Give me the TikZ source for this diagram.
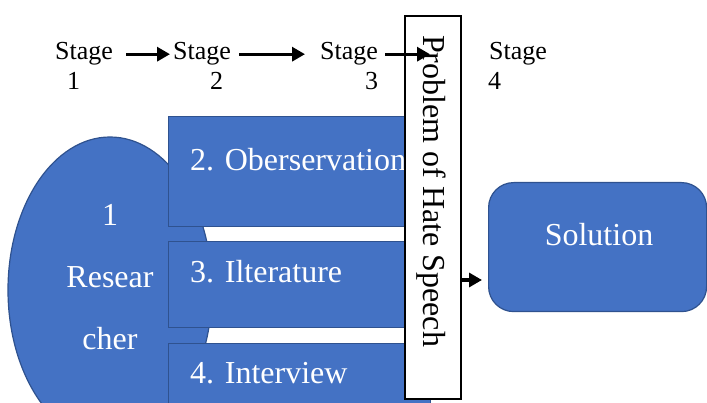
\documentclass[tikz,border=0pt]{standalone}
\usepackage{fontspec}
\setmainfont{Liberation Serif}
\usetikzlibrary{arrows.meta,shapes.geometric}
\definecolor{wblue}{HTML}{4472C4}
\definecolor{wline}{HTML}{2F528F}
\tikzset{
  arr/.style={line width=3.2pt,-{Triangle[length=13pt,width=14pt]}},
  stagetxt/.style={font=\fontsize{26}{30}\selectfont,inner sep=0pt,anchor=base west},
  bluebox/.style={draw=wline,fill=wblue,line width=1.2pt},
  wtxt/.style={text=white,font=\fontsize{32}{38}\selectfont,inner sep=0pt},
}
\begin{document}
\begin{tikzpicture}[x=1pt,y=-1pt]
\useasboundingbox (0,0) rectangle (707,403);
\clip (0,0) rectangle (707,403);
% researcher ellipse
\node[bluebox,ellipse,minimum width=204pt,minimum height=306pt] (res) at (110,290) {};
\node[wtxt,align=center,font=\fontsize{32}{62}\selectfont,anchor=base] (rest) at (110,349) {1\\Resear\\cher};
% method boxes
\node[bluebox,rectangle,anchor=north west,minimum width=262pt,minimum height=110pt] (b2) at (168,116) {};
\node[bluebox,rectangle,anchor=north west,minimum width=262pt,minimum height=86pt] (b3) at (168,241) {};
\node[bluebox,rectangle,anchor=north west,minimum width=262pt,minimum height=90pt] (b4) at (168,343) {};
\node[wtxt,anchor=base west] (b2t) at (190,171) {2. Oberservation};
\node[wtxt,anchor=base west] (b3t) at (190,283) {3. Ilterature};
\node[wtxt,anchor=base west] (b4t) at (190,383) {4. Interview};
% problem box
\node[draw=black,fill=white,line width=2pt,rectangle,anchor=north west,minimum width=56pt,minimum height=383pt] (prob) at (404,15) {};
\node[rotate=-90,anchor=west,inner sep=0pt,font=\fontsize{32}{38}\selectfont] (probt) at (431,35) {Problem of Hate Speech};
% solution
\node[bluebox,rectangle,rounded corners=25pt,anchor=north west,minimum width=218pt,minimum height=129pt] (sol) at (488,182) {};
\node[wtxt,anchor=base] (solt) at (599,246) {Solution};
% stages
\node[stagetxt] (st1) at (55,60) {Stage};
\node[stagetxt] (n1) at (67,90) {1};
\node[stagetxt] (st2) at (173,60) {Stage};
\node[stagetxt] (n2) at (210,90) {2};
\node[stagetxt] (st3) at (320,60) {Stage};
\node[stagetxt] (n3) at (365,90) {3};
\node[stagetxt] (st4) at (489,60) {Stage};
\node[stagetxt] (n4) at (488,90) {4};
% arrows
\coordinate (a4) at (0,280);
\draw[arr,shorten <=13pt,shorten >=3pt] (st1.east) -- (st2.west);
\draw[arr,shorten <=8pt,shorten >=15pt] (st2.east) -- (st3.west);
\draw[arr,shorten <=7pt,shorten >=3pt] (st3.east) -- (st3.east -| prob.center);
\draw[arr,shorten >=6pt] (prob.east |- a4) -- (sol.west |- a4);
\end{tikzpicture}
\end{document}
